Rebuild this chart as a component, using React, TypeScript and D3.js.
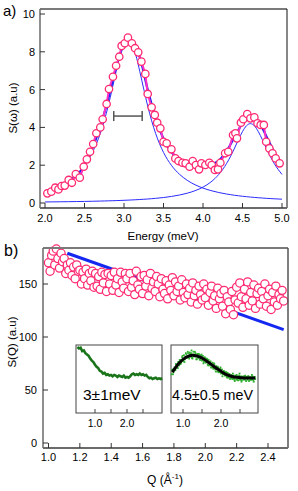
import React from 'react';
import * as d3 from 'd3';

// ---------- Panel a data ----------
const energyA = [2.03,2.08,2.13,2.17,2.21,2.25,2.30,2.34,2.39,2.44,2.49,2.53,2.57,2.61,2.65,2.70,2.73,2.78,2.81,2.86,2.90,2.94,2.97,3.01,3.05,3.10,3.14,3.18,3.22,3.27,3.30,3.35,3.39,3.42,3.46,3.50,3.54,3.60,3.65,3.69,3.74,3.78,3.83,3.87,3.91,3.95,3.98,4.03,4.08,4.11,4.15,4.19,4.22,4.28,4.32,4.38,4.41,4.43,4.48,4.51,4.56,4.60,4.65,4.69,4.73,4.77,4.80,4.84,4.88,4.92,4.97];
const sOmegaA = [0.51,0.60,0.81,0.72,0.90,0.92,1.22,1.07,1.53,1.34,1.92,2.31,2.71,3.12,3.69,4.00,4.43,5.24,6.03,6.68,7.26,7.74,8.31,8.45,8.75,8.45,8.19,7.97,7.48,6.83,5.77,5.06,4.66,4.25,3.95,3.24,3.16,2.84,2.36,2.22,2.13,2.10,1.92,2.22,2.01,1.78,2.10,2.01,2.13,2.01,1.75,1.78,2.13,2.63,2.71,3.60,3.69,3.42,4.25,4.43,4.71,4.48,4.53,4.22,4.13,4.13,3.24,2.89,2.63,2.36,2.10];

const fitTotalE = [2.0,2.1,2.2,2.3,2.4,2.5,2.6,2.7,2.8,2.9,3.0,3.05,3.1,3.2,3.3,3.4,3.5,3.6,3.7,3.8,3.9,4.0,4.1,4.2,4.3,4.4,4.5,4.6,4.7,4.8,4.9,5.0];
const fitTotal = [0.62,0.74,0.9,1.12,1.45,1.98,2.9,4.05,5.5,7.15,8.4,8.62,8.5,7.7,6.0,4.5,3.4,2.7,2.3,2.08,2.0,2.0,2.05,2.25,2.75,3.5,4.2,4.48,4.3,3.55,2.7,1.95];

const compE = [2.0,2.1,2.2,2.3,2.4,2.5,2.6,2.7,2.75,2.8,2.85,2.9,2.95,3.0,3.05,3.1,3.15,3.2,3.25,3.3,3.35,3.4,3.5,3.6,3.7,3.8,3.9,4.0,4.1,4.2,4.3,4.35,4.4,4.45,4.5,4.55,4.6,4.65,4.7,4.75,4.8,4.85,4.9,5.0];
const compLow = [0.657,0.789,0.964,1.20,1.529,1.995,2.677,3.685,4.35,5.135,6.025,6.96,7.83,8.465,8.7,8.465,7.83,6.96,6.025,5.135,4.35,3.685,2.677,1.995,1.529,1.20,0.964,0.789,0.657,0.554,0.474,0.44,0.409,0.382,0.357,0.335,0.314,0.296,0.278,0.263,0.248,0.235,0.223,0.201];
const compHigh = [0.055,0.06,0.065,0.07,0.077,0.084,0.092,0.102,0.108,0.114,0.12,0.127,0.134,0.143,0.152,0.162,0.172,0.184,0.198,0.212,0.228,0.247,0.29,0.347,0.42,0.518,0.652,0.84,1.111,1.512,2.1,2.479,2.908,3.36,3.78,4.086,4.2,4.086,3.78,3.36,2.908,2.479,2.1,1.512];

const errBarE = [2.87, 3.23];
const errBarS = 4.6;

const xTicksA = [2.0,2.5,3.0,3.5,4.0,4.5,5.0];
const yTicksA = [0,2,4,6,8,10];

// ---------- Panel b data ----------
const qStartB = 1.0;
const qStepB = 0.01;
const sQ = [
  170,162,177,181,168,183,174,165,179,171,
  174,160,168,163,170,158,166,155,168,162,
  163,150,161,155,164,149,160,153,162,147,
  160,148,157,145,161,151,159,143,160,150,
  158,144,161,149,155,142,161,152,146,160,
  155,143,160,147,153,140,162,149,145,157,
  141,158,148,154,139,160,146,152,143,157,
  150,138,155,145,141,153,136,149,144,156,
  139,152,143,148,135,154,142,137,150,140,
  146,133,151,139,144,131,148,140,135,150,
  137,145,130,142,148,134,139,127,146,136,
  141,129,144,122,138,133,126,143,121,135,
  147,132,151,138,128,145,136,152,130,142,
  134,149,127,141,146,131,143,136,150,129,
  139,145,126,142,133,148,130,140,136,144,134
];
const blueLineQ = [1.12, 2.50];
const blueLineS = [179, 107];

const xTicksB = [1.0,1.2,1.4,1.6,1.8,2.0,2.2,2.4];
const yTicksB = [0,50,100,150];

// ---------- Insets ----------
const inset1QStart = 0.45;
const inset1QStep = 0.05;
const inset1Vals = [97,95,96,91,92,88,86,84,80,77,75,71,68,66,62,61,58,59,56,57,55,56,54,56,55,53,55,54,53,55,52,53,52,54,57,58,56,57,56,58,56,57,55,56,53,51,52,50,51,52,50,51,50,51];

const inset2CurveQ = [0.72,0.9,1.08,1.26,1.44,1.62,1.8,1.98,2.16,2.34,2.52,2.7,2.9];
const inset2CurveV = [60,73.5,82,85,82.5,76.5,69,62,56,53,52,51.5,51.5];

const inset2AStart = 0.70;
const inset2AStep = 0.025;
const inset2A = [57,64,60,67,63,71,68,75,70,78,74,82,76,85,79,88,81,90,82,89,83,92,80,90,84,88,79,87,81,86,78,85,77,84,75,82,74,80,71,78,70,76,67,74,65,72,64,69,61,67,60,65,58,64,57,62,55,60,53,59,52,57,51,56,50,55,49,55,49,54,48,55,49,54,48,53,49,54,48,53,49,54,48,53,49,54,48,53,50];
const inset2BStart = 0.7125;
const inset2BStep = 0.025;
const inset2B = [63,57,64,63,72,68,66,75,78,72,77,84,77,75,82,86,82,88,80,87,88,81,86,83,90,83,79,85,87,79,81,86,78,73,79,80,75,79,70,75,75,67,71,67,73,66,61,67,68,60,62,67,59,54,60,61,56,60,52,57,57,50,54,51,58,51,47,54,56,49,52,58,49,46,52,54,50,55,47,53,54,47,52,49,56,50,46,53];

const insetTicks = [1.0,1.5,2.0,2.5];
const insetLabels = [1.0, 2.0];

const FONT = '"Liberation Sans", Arial, Helvetica, sans-serif';
const PINK = '#ff2a72';

export default function App() {
  // panel a scales
  const xA = d3.scaleLinear().domain([2, 5]).range([45, 282]);
  const yA = d3.scaleLinear().domain([0, 10]).range([203, 14]);
  const aL = 40, aR = 287, aT = 9, aB = 208;

  // panel b scales
  const xB = d3.scaleLinear().domain([1.0, 2.4]).range([48.5, 268]);
  const yB = d3.scaleLinear().domain([0, 150]).range([443, 284]);
  const bL = 43, bR = 288, bT = 248, bB = 448;

  // insets
  const iT = 345, iBt = 413;
  const yI = d3.scaleLinear().domain([0, 100]).range([413, 345]);
  const i1L = 76, i1R = 162;
  const xI1 = d3.scaleLinear().domain([1, 2]).range([95, 127]);
  const i2L = 171, i2R = 258;
  const xI2 = d3.scaleLinear().domain([1, 2]).range([183, 221]);

  const lineA = d3.line<[number, number]>().x(d => xA(d[0])).y(d => yA(d[1]));
  const smoothA = d3.line<[number, number]>().x(d => xA(d[0])).y(d => yA(d[1])).curve(d3.curveMonotoneX);

  const dataPts: [number, number][] = energyA.map((e, i) => [e, sOmegaA[i]]);
  const totPts: [number, number][] = fitTotalE.map((e, i) => [e, fitTotal[i]]);
  const lowPts: [number, number][] = compE.map((e, i) => [e, compLow[i]]);
  const highPts: [number, number][] = compE.map((e, i) => [e, compHigh[i]]);

  const bPts = sQ.map((v, i) => [qStartB + i * qStepB, v]);
  const i1Pts: [number, number][] = inset1Vals.map((v, i) => [inset1QStart + i * inset1QStep, v]);
  const i1Line = d3.line<[number, number]>().x(d => xI1(d[0])).y(d => yI(d[1]));
  const i2Curve = d3.line<[number, number]>().x(d => xI2(d[0])).y(d => yI(d[1])).curve(d3.curveCatmullRom);
  const i2CurvePts: [number, number][] = inset2CurveQ.map((q, i) => [q, inset2CurveV[i]]);
  const i2Scatter = [
    ...inset2A.map((v, i) => [inset2AStart + i * inset2AStep, v]),
    ...inset2B.map((v, i) => [inset2BStart + i * inset2BStep, v]),
  ];

  const axisGray = '#6a6a6a';

  return (
    <svg width={298} height={491} style={{ position: 'absolute', left: 0, top: 0, background: '#fff' }} fontFamily={FONT}>
      {/* ===== Panel a ===== */}
      <text x={3} y={16} fontSize={15}>a)</text>
      <text transform={`translate(17,108) rotate(-90)`} textAnchor="middle" fontSize={11.5}>S(ω) (a.u)</text>

      {/* components */}
      <path d={smoothA(lowPts) || ''} fill="none" stroke="#2b2bff" strokeWidth={1} />
      <path d={smoothA(highPts) || ''} fill="none" stroke="#2b2bff" strokeWidth={1} />
      {/* fit total */}
      <path d={smoothA(totPts) || ''} fill="none" stroke="#2020ee" strokeWidth={2.2} />
      {/* data line */}
      <path d={lineA(dataPts) || ''} fill="none" stroke="#ff30c8" strokeWidth={2} />
      {dataPts.map((d, i) => (
        <circle key={i} cx={xA(d[0])} cy={yA(d[1])} r={3.7} fill="#fff" stroke={PINK} strokeWidth={1.3} />
      ))}
      {/* error bar */}
      <g stroke="#555" strokeWidth={1.5}>
        <line x1={xA(errBarE[0])} x2={xA(errBarE[1])} y1={yA(errBarS)} y2={yA(errBarS)} />
        <line x1={xA(errBarE[0])} x2={xA(errBarE[0])} y1={yA(errBarS) - 5} y2={yA(errBarS) + 5} />
        <line x1={xA(errBarE[1])} x2={xA(errBarE[1])} y1={yA(errBarS) - 5} y2={yA(errBarS) + 5} />
      </g>

      {/* frame a */}
      <line x1={aL} x2={aR} y1={aT} y2={aT} stroke="#7a7a7a" strokeWidth={2} />
      <line x1={aR} x2={aR} y1={aT} y2={aB} stroke="#111" strokeWidth={1} />
      <line x1={aL} x2={aL} y1={aT} y2={aB} stroke={axisGray} strokeWidth={1.5} />
      <line x1={aL} x2={aR} y1={aB} y2={aB} stroke={axisGray} strokeWidth={2} />
      {yTicksA.map(t => (
        <g key={'ya' + t}>
          <line x1={aL} x2={aL + 5} y1={yA(t)} y2={yA(t)} stroke="#333" strokeWidth={1} />
          <text x={35} y={yA(t) + 4} textAnchor="end" fontSize={11}>{t}</text>
        </g>
      ))}
      {xTicksA.map(t => (
        <g key={'xa' + t}>
          <line x1={xA(t)} x2={xA(t)} y1={aB} y2={aB - 5} stroke="#333" strokeWidth={1} />
          <text x={xA(t)} y={222} textAnchor="middle" fontSize={11}>{t.toFixed(1)}</text>
        </g>
      ))}
      <text x={163} y={240} textAnchor="middle" fontSize={11.5}>Energy (meV)</text>

      {/* ===== Panel b ===== */}
      <text x={4} y={256} fontSize={16}>b)</text>
      <text transform={`translate(16,342) rotate(-90)`} textAnchor="middle" fontSize={11.5}>S(Q) (a.u)</text>

      <line x1={xB(blueLineQ[0])} x2={xB(blueLineQ[1])} y1={yB(blueLineS[0])} y2={yB(blueLineS[1])} stroke="#1428f0" strokeWidth={3} />
      {bPts.map((d, i) => (
        <circle key={i} cx={xB(d[0])} cy={yB(d[1])} r={4.1} fill="#fff" stroke={PINK} strokeWidth={1.25} />
      ))}

      {/* frame b */}
      <line x1={bL} x2={bR} y1={bT} y2={bT} stroke="#7a7a7a" strokeWidth={2} />
      <line x1={bR} x2={bR} y1={bT} y2={bB} stroke="#555" strokeWidth={1.5} />
      <line x1={bL} x2={bL} y1={bT} y2={bB} stroke={axisGray} strokeWidth={1.5} />
      <line x1={bL} x2={bR} y1={bB} y2={bB} stroke={axisGray} strokeWidth={2} />
      {yTicksB.map(t => (
        <g key={'yb' + t}>
          <line x1={bL} x2={bL + 5} y1={yB(t)} y2={yB(t)} stroke="#333" strokeWidth={1} />
          <text x={37} y={yB(t) + 4} textAnchor="end" fontSize={11}>{t}</text>
        </g>
      ))}
      {xTicksB.map(t => (
        <g key={'xb' + t}>
          <line x1={xB(t)} x2={xB(t)} y1={bB} y2={bB - 5} stroke="#333" strokeWidth={1} />
          <text x={xB(t)} y={461} textAnchor="middle" fontSize={11}>{t.toFixed(1)}</text>
        </g>
      ))}
      <text x={165} y={484} textAnchor="middle" fontSize={12}>
        Q (Å<tspan dy={-5} fontSize={8}>-1</tspan><tspan dy={5}>)</tspan>
      </text>

      {/* ===== Inset 1 ===== */}
      <rect x={i1L} y={iT} width={i1R - i1L} height={iBt - iT} fill="#fff" stroke="#444" strokeWidth={1} />
      <path d={i1Line(i1Pts) || ''} fill="none" stroke="#1a751a" strokeWidth={2.6} />
      {insetTicks.map(t => (
        <line key={'i1t' + t} x1={xI1(t)} x2={xI1(t)} y1={iBt} y2={iBt - 4} stroke="#444" strokeWidth={1} />
      ))}
      {insetLabels.map(t => (
        <text key={'i1l' + t} x={xI1(t)} y={427} textAnchor="middle" fontSize={10.5}>{t.toFixed(1)}</text>
      ))}
      <text x={83} y={400} fontSize={15.5}>3±1meV</text>

      {/* ===== Inset 2 ===== */}
      <rect x={i2L} y={iT} width={i2R - i2L} height={iBt - iT} fill="#fff" stroke="#444" strokeWidth={1} />
      {i2Scatter.map((d, i) => (
        <rect key={i} x={xI2(d[0]) - 0.9} y={yI(d[1]) - 0.9} width={1.8} height={1.8} fill="#2fb02f" />
      ))}
      <path d={i2Curve(i2CurvePts) || ''} fill="none" stroke="#000" strokeWidth={3} />
      {insetTicks.map(t => (
        <line key={'i2t' + t} x1={xI2(t)} x2={xI2(t)} y1={iBt} y2={iBt - 4} stroke="#444" strokeWidth={1} />
      ))}
      {insetLabels.map(t => (
        <text key={'i2l' + t} x={xI2(t)} y={427} textAnchor="middle" fontSize={10.5}>{t.toFixed(1)}</text>
      ))}
      <text x={172} y={400} fontSize={14.3}>4.5±0.5 meV</text>
    </svg>
  );
}
